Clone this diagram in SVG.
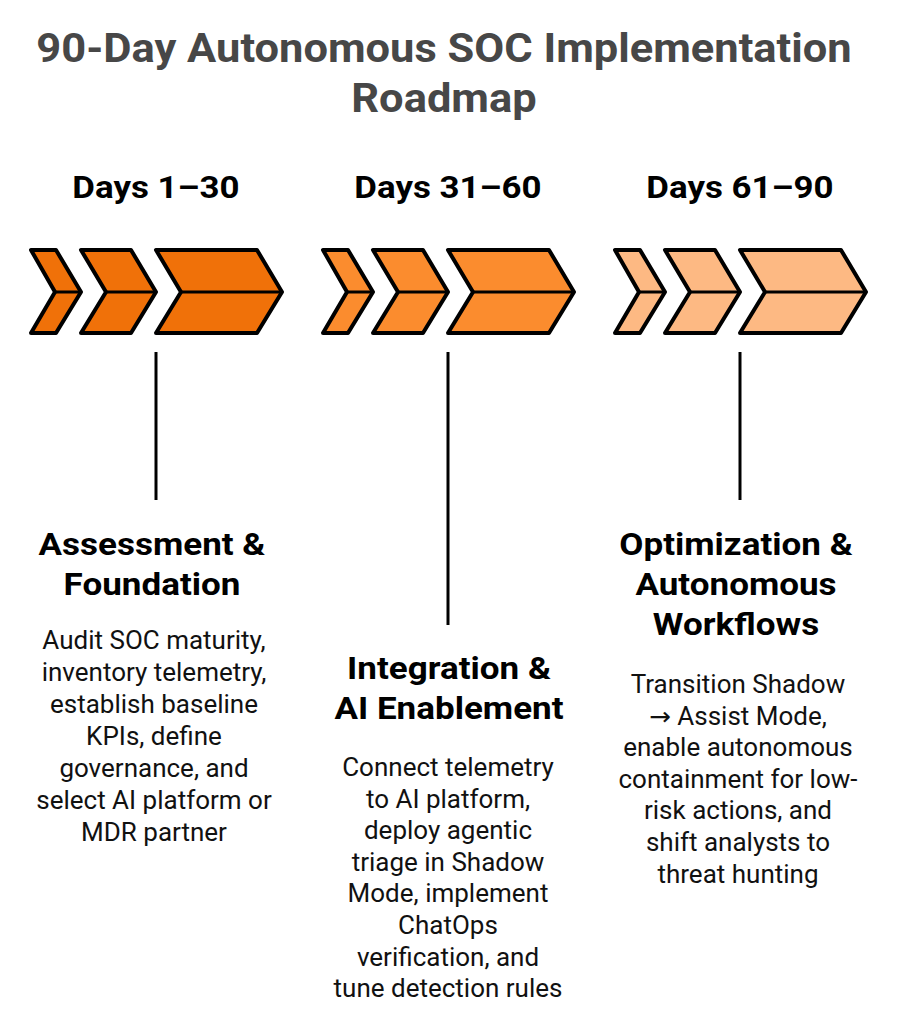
<svg xmlns="http://www.w3.org/2000/svg" width="897" height="1024" viewBox="0 0 897 1024">
<style>
.title{font-family:Roboto,"Liberation Sans",sans-serif;font-weight:bold;font-size:41px;fill:#474747;text-anchor:middle}
.phase{font-family:Roboto,"Liberation Sans",sans-serif;font-weight:bold;font-size:32px;fill:#000;text-anchor:middle}
.head{font-family:Roboto,"Liberation Sans",sans-serif;font-weight:bold;font-size:31px;fill:#000;text-anchor:middle}
.body{font-family:Roboto,"Liberation Sans",sans-serif;font-size:25px;fill:#111;text-anchor:middle}
.arrow{font-family:"DejaVu Sans",sans-serif}
.chev{stroke:#000;stroke-width:4;stroke-linejoin:round}
.conn{stroke:#000;stroke-width:3;fill:none}
.c1{fill:#F07109}.c2{fill:#FB8C2E}.c3{fill:#FDB983}
</style>
<defs>
<g id="chevrons">
<path class="chev" d="M31,250 H56 L81,292 L56,333 H31 L55,292 Z"/>
<line class="conn" x1="55" y1="292" x2="81" y2="292"/>
<path class="chev" d="M81,250 H131 L156,292 L131,333 H81 L106,292 Z"/>
<line class="conn" x1="106" y1="292" x2="156" y2="292"/>
<path class="chev" d="M156,250 H257 L282,292 L257,333 H156 L181,292 Z"/>
<line class="conn" x1="181" y1="292" x2="282" y2="292"/>
</g>
</defs>
<g id="title" transform="translate(444,0) scale(1.06,1) translate(-444,0)">
<text class="title" x="444" y="62">90-Day Autonomous SOC Implementation</text>
<text class="title" x="444" y="112">Roadmap</text>
</g>
<g id="phase1">
<text class="phase" x="156" y="198" transform="translate(156,0) scale(1.09,1) translate(-156,0)">Days 1–30</text>
<g class="c1"><use href="#chevrons"/></g>
</g>
<g id="phase2">
<text class="phase" x="448" y="198" transform="translate(448,0) scale(1.09,1) translate(-448,0)">Days 31–60</text>
<g class="c2" transform="translate(292,0)"><use href="#chevrons"/></g>
</g>
<g id="phase3">
<text class="phase" x="740" y="198" transform="translate(740,0) scale(1.09,1) translate(-740,0)">Days 61–90</text>
<g class="c3" transform="translate(584,0)"><use href="#chevrons"/></g>
</g>
<g id="connectors">
<line class="conn" x1="156" y1="352" x2="156" y2="500"/>
<line class="conn" x1="448" y1="352" x2="448" y2="625"/>
<line class="conn" x1="740" y1="352" x2="740" y2="500"/>
</g>
<g id="node1">
<g transform="translate(152,0) scale(1.13,1) translate(-152,0)">
<text class="head" x="152" y="555">Assessment &amp;</text>
<text class="head" x="152" y="595">Foundation</text>
</g>
<g transform="translate(154,0) scale(1.04,1) translate(-154,0)">
<text class="body" x="154" y="649">Audit SOC maturity,</text>
<text class="body" x="154" y="681">inventory telemetry,</text>
<text class="body" x="154" y="713">establish baseline</text>
<text class="body" x="154" y="745">KPIs, define</text>
<text class="body" x="154" y="777">governance, and</text>
<text class="body" x="154" y="809">select AI platform or</text>
<text class="body" x="154" y="841">MDR partner</text>
</g>
</g>
<g id="node2">
<g transform="translate(449,0) scale(1.13,1) translate(-449,0)">
<text class="head" x="449" y="679">Integration &amp;</text>
<text class="head" x="449" y="719">AI Enablement</text>
</g>
<g transform="translate(448,0) scale(1.04,1) translate(-448,0)">
<text class="body" x="448" y="776">Connect telemetry</text>
<text class="body" x="448" y="808">to AI platform,</text>
<text class="body" x="448" y="839">deploy agentic</text>
<text class="body" x="448" y="871">triage in Shadow</text>
<text class="body" x="448" y="902">Mode, implement</text>
<text class="body" x="448" y="934">ChatOps</text>
<text class="body" x="448" y="966">verification, and</text>
<text class="body" x="448" y="997">tune detection rules</text>
</g>
</g>
<g id="node3">
<g transform="translate(736,0) scale(1.13,1) translate(-736,0)">
<text class="head" x="736" y="555">Optimization &amp;</text>
<text class="head" x="736" y="595">Autonomous</text>
<text class="head" x="736" y="635">Workflows</text>
</g>
<g transform="translate(738,0) scale(1.04,1) translate(-738,0)">
<text class="body" x="738" y="693">Transition Shadow</text>
<text class="body" x="738" y="725"><tspan class="arrow">→</tspan> Assist Mode,</text>
<text class="body" x="738" y="756">enable autonomous</text>
<text class="body" x="738" y="788">containment for low-</text>
<text class="body" x="738" y="819">risk actions, and</text>
<text class="body" x="738" y="851">shift analysts to</text>
<text class="body" x="738" y="883">threat hunting</text>
</g>
</g>
</svg>
